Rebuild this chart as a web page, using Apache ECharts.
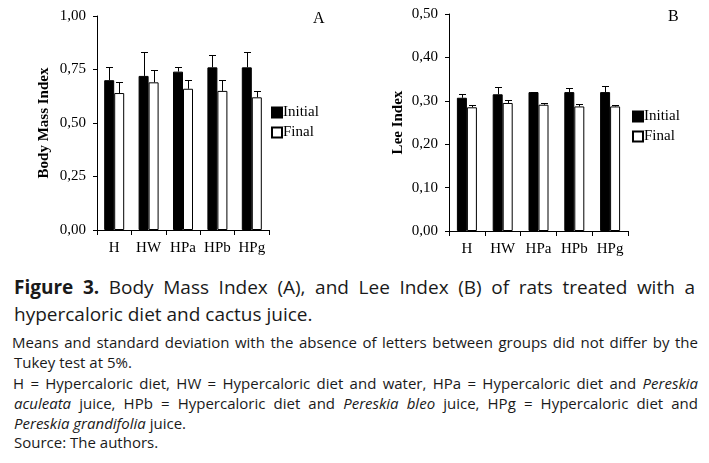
<!DOCTYPE html>
<html>
<head>
<meta charset="utf-8">
<script src="https://cdn.jsdelivr.net/npm/echarts@6/dist/echarts.min.js"></script>
<style>
  html, body { margin: 0; padding: 0; background: #fff; width: 709px; height: 463px; overflow: hidden; }
  #chart { position: absolute; left: 0; top: 0; width: 709px; height: 258px; }
  .ln { position: absolute; font-family: 'Open Sans', sans-serif; color: #1a1a1a; white-space: nowrap; }
  .big { font-size: 19px; line-height: 28px; height: 28px; }
  .sm { font-size: 15px; line-height: 20px; height: 20px; }
  .j { text-align: justify; text-align-last: justify; }
</style>
</head>
<body>
<div id="chart"></div>
<div class="ln big j" style="left:14px; top:273px; width:681px;"><b>Figure 3.</b> Body Mass Index (A), and Lee Index (B) of rats treated with a</div>
<div class="ln big" style="left:14px; top:300px;">hypercaloric diet and cactus juice.</div>
<div class="ln sm j" style="left:12px; top:332px; width:686px;">Means and standard deviation with the absence of letters between groups did not differ by the</div>
<div class="ln sm" style="left:14px; top:352px;">Tukey test at 5%.</div>
<div class="ln sm j" style="left:13px; top:373px; width:685px;">H = Hypercaloric diet, HW = Hypercaloric diet and water, HPa = Hypercaloric diet and <i>Pereskia</i></div>
<div class="ln sm j" style="left:14px; top:393px; width:684px;"><i>aculeata</i> juice, HPb = Hypercaloric diet and <i>Pereskia bleo</i> juice, HPg = Hypercaloric diet and</div>
<div class="ln sm" style="left:14px; top:413px;"><i>Pereskia grandifolia</i> juice.</div>
<div class="ln sm" style="left:14px; top:432px;">Source: The authors.</div>
<script>
const categories = ['H', 'HW', 'HPa', 'HPb', 'HPg'];
const bmiInitial = [0.70, 0.72, 0.74, 0.76, 0.76];
const bmiInitialSd = [0.06, 0.11, 0.02, 0.06, 0.07];
const bmiFinal = [0.64, 0.69, 0.66, 0.65, 0.62];
const bmiFinalSd = [0.05, 0.06, 0.04, 0.05, 0.03];
const leeInitial = [0.307, 0.315, 0.320, 0.320, 0.320];
const leeInitialSd = [0.009, 0.017, 0.001, 0.009, 0.014];
const leeFinal = [0.285, 0.295, 0.291, 0.287, 0.287];
const leeFinalSd = [0.006, 0.007, 0.003, 0.005, 0.003];
const bmiTicks = [0, 0.25, 0.5, 0.75, 1.0];
const leeTicks = [0, 0.1, 0.2, 0.3, 0.4, 0.5];

const FONT = 'Liberation Serif';
const BAR_W = 10;

function errData(vals, sds) { return vals.map((v, i) => [i, v, sds[i]]); }

function errSeries(name, xi, yi, vals, sds, offset) {
  return {
    type: 'custom', name: name + ' SD', xAxisIndex: xi, yAxisIndex: yi, z: 5,
    silent: true, legendHoverLink: false,
    data: errData(vals, sds),
    renderItem: function (params, api) {
      const i = api.value(0), v = api.value(1), sd = api.value(2);
      const p0 = api.coord([i, v]);
      const p1 = api.coord([i, v + sd]);
      const x = Math.round(p0[0] + offset) + 0.5;
      const yTop = Math.round(p1[1]) + 0.5;
      const style = { stroke: '#000', lineWidth: 1 };
      return {
        type: 'group',
        children: [
          { type: 'line', shape: { x1: x, y1: p0[1], x2: x, y2: yTop }, style: style },
          { type: 'line', shape: { x1: x - 3.5, y1: yTop, x2: x + 3.5, y2: yTop }, style: style }
        ]
      };
    }
  };
}

function fmt(v) { return v.toFixed(2).replace('.', ','); }

function xAxisDef(gi) {
  return {
    type: 'category', gridIndex: gi, data: categories,
    axisLine: { lineStyle: { color: '#000', width: 1 } },
    axisTick: { show: true, length: 5, lineStyle: { color: '#000' } },
    axisLabel: { color: '#000', fontFamily: FONT, fontSize: 15, margin: 11, interval: 0 }
  };
}
function yAxisDef(gi, max, interval, title, nameGap) {
  return {
    type: 'value', gridIndex: gi, min: 0, max: max, interval: interval,
    name: title, nameLocation: 'middle', nameGap: nameGap, nameRotate: 90,
    nameTextStyle: { color: '#000', fontFamily: FONT, fontSize: 15, fontWeight: 'bold' },
    axisLine: { show: true, lineStyle: { color: '#000', width: 1 } },
    axisTick: { show: true, length: 4, lineStyle: { color: '#000' } },
    splitLine: { show: false },
    axisLabel: { color: '#000', fontFamily: FONT, fontSize: 15, margin: 11, formatter: fmt }
  };
}

const initialStyle = { color: '#000', borderColor: '#000', borderWidth: 1 };
const finalStyle = { color: '#fff', borderColor: '#000', borderWidth: 1 };

function legendDef(left, top) {
  return {
    orient: 'vertical', left: left, top: top, padding: 0, icon: 'rect',
    itemWidth: 10, itemHeight: 10, itemGap: 5,
    data: ['Initial', 'Final'],
    textStyle: { color: '#000', fontFamily: FONT, fontSize: 15, padding: [0, 0, 0, -4] }
  };
}

const chart = echarts.init(document.getElementById('chart'), null, { renderer: 'canvas' });
chart.setOption({
  animation: false,
  textStyle: { fontFamily: FONT },
  grid: [
    { left: 97, top: 16, width: 172, height: 214 },
    { left: 449, top: 14, width: 179, height: 217 }
  ],
  xAxis: [xAxisDef(0), xAxisDef(1)],
  yAxis: [
    yAxisDef(0, bmiTicks[bmiTicks.length - 1], 0.25, 'Body Mass Index', 45),
    yAxisDef(1, leeTicks[leeTicks.length - 1], 0.1, 'Lee Index', 43)
  ],
  legend: [legendDef(271, 105), legendDef(632, 109)],
  graphic: [
    { type: 'text', left: 313, top: 11, style: { text: 'A', font: '16px "Liberation Serif"', fill: '#000' } },
    { type: 'text', left: 668, top: 9, style: { text: 'B', font: '16px "Liberation Serif"', fill: '#000' } }
  ],
  series: [
    { name: 'Initial', type: 'bar', xAxisIndex: 0, yAxisIndex: 0, barWidth: BAR_W, barGap: '0%', data: bmiInitial, itemStyle: initialStyle },
    { name: 'Final', type: 'bar', xAxisIndex: 0, yAxisIndex: 0, barWidth: BAR_W, barGap: '0%', data: bmiFinal, itemStyle: finalStyle },
    { name: 'Initial', type: 'bar', xAxisIndex: 1, yAxisIndex: 1, barWidth: BAR_W, barGap: '0%', data: leeInitial, itemStyle: initialStyle },
    { name: 'Final', type: 'bar', xAxisIndex: 1, yAxisIndex: 1, barWidth: BAR_W, barGap: '0%', data: leeFinal, itemStyle: finalStyle },
    errSeries('Initial', 0, 0, bmiInitial, bmiInitialSd, -BAR_W / 2),
    errSeries('Final', 0, 0, bmiFinal, bmiFinalSd, BAR_W / 2),
    errSeries('Initial', 1, 1, leeInitial, leeInitialSd, -BAR_W / 2),
    errSeries('Final', 1, 1, leeFinal, leeFinalSd, BAR_W / 2)
  ]
});
</script>
</body>
</html>
